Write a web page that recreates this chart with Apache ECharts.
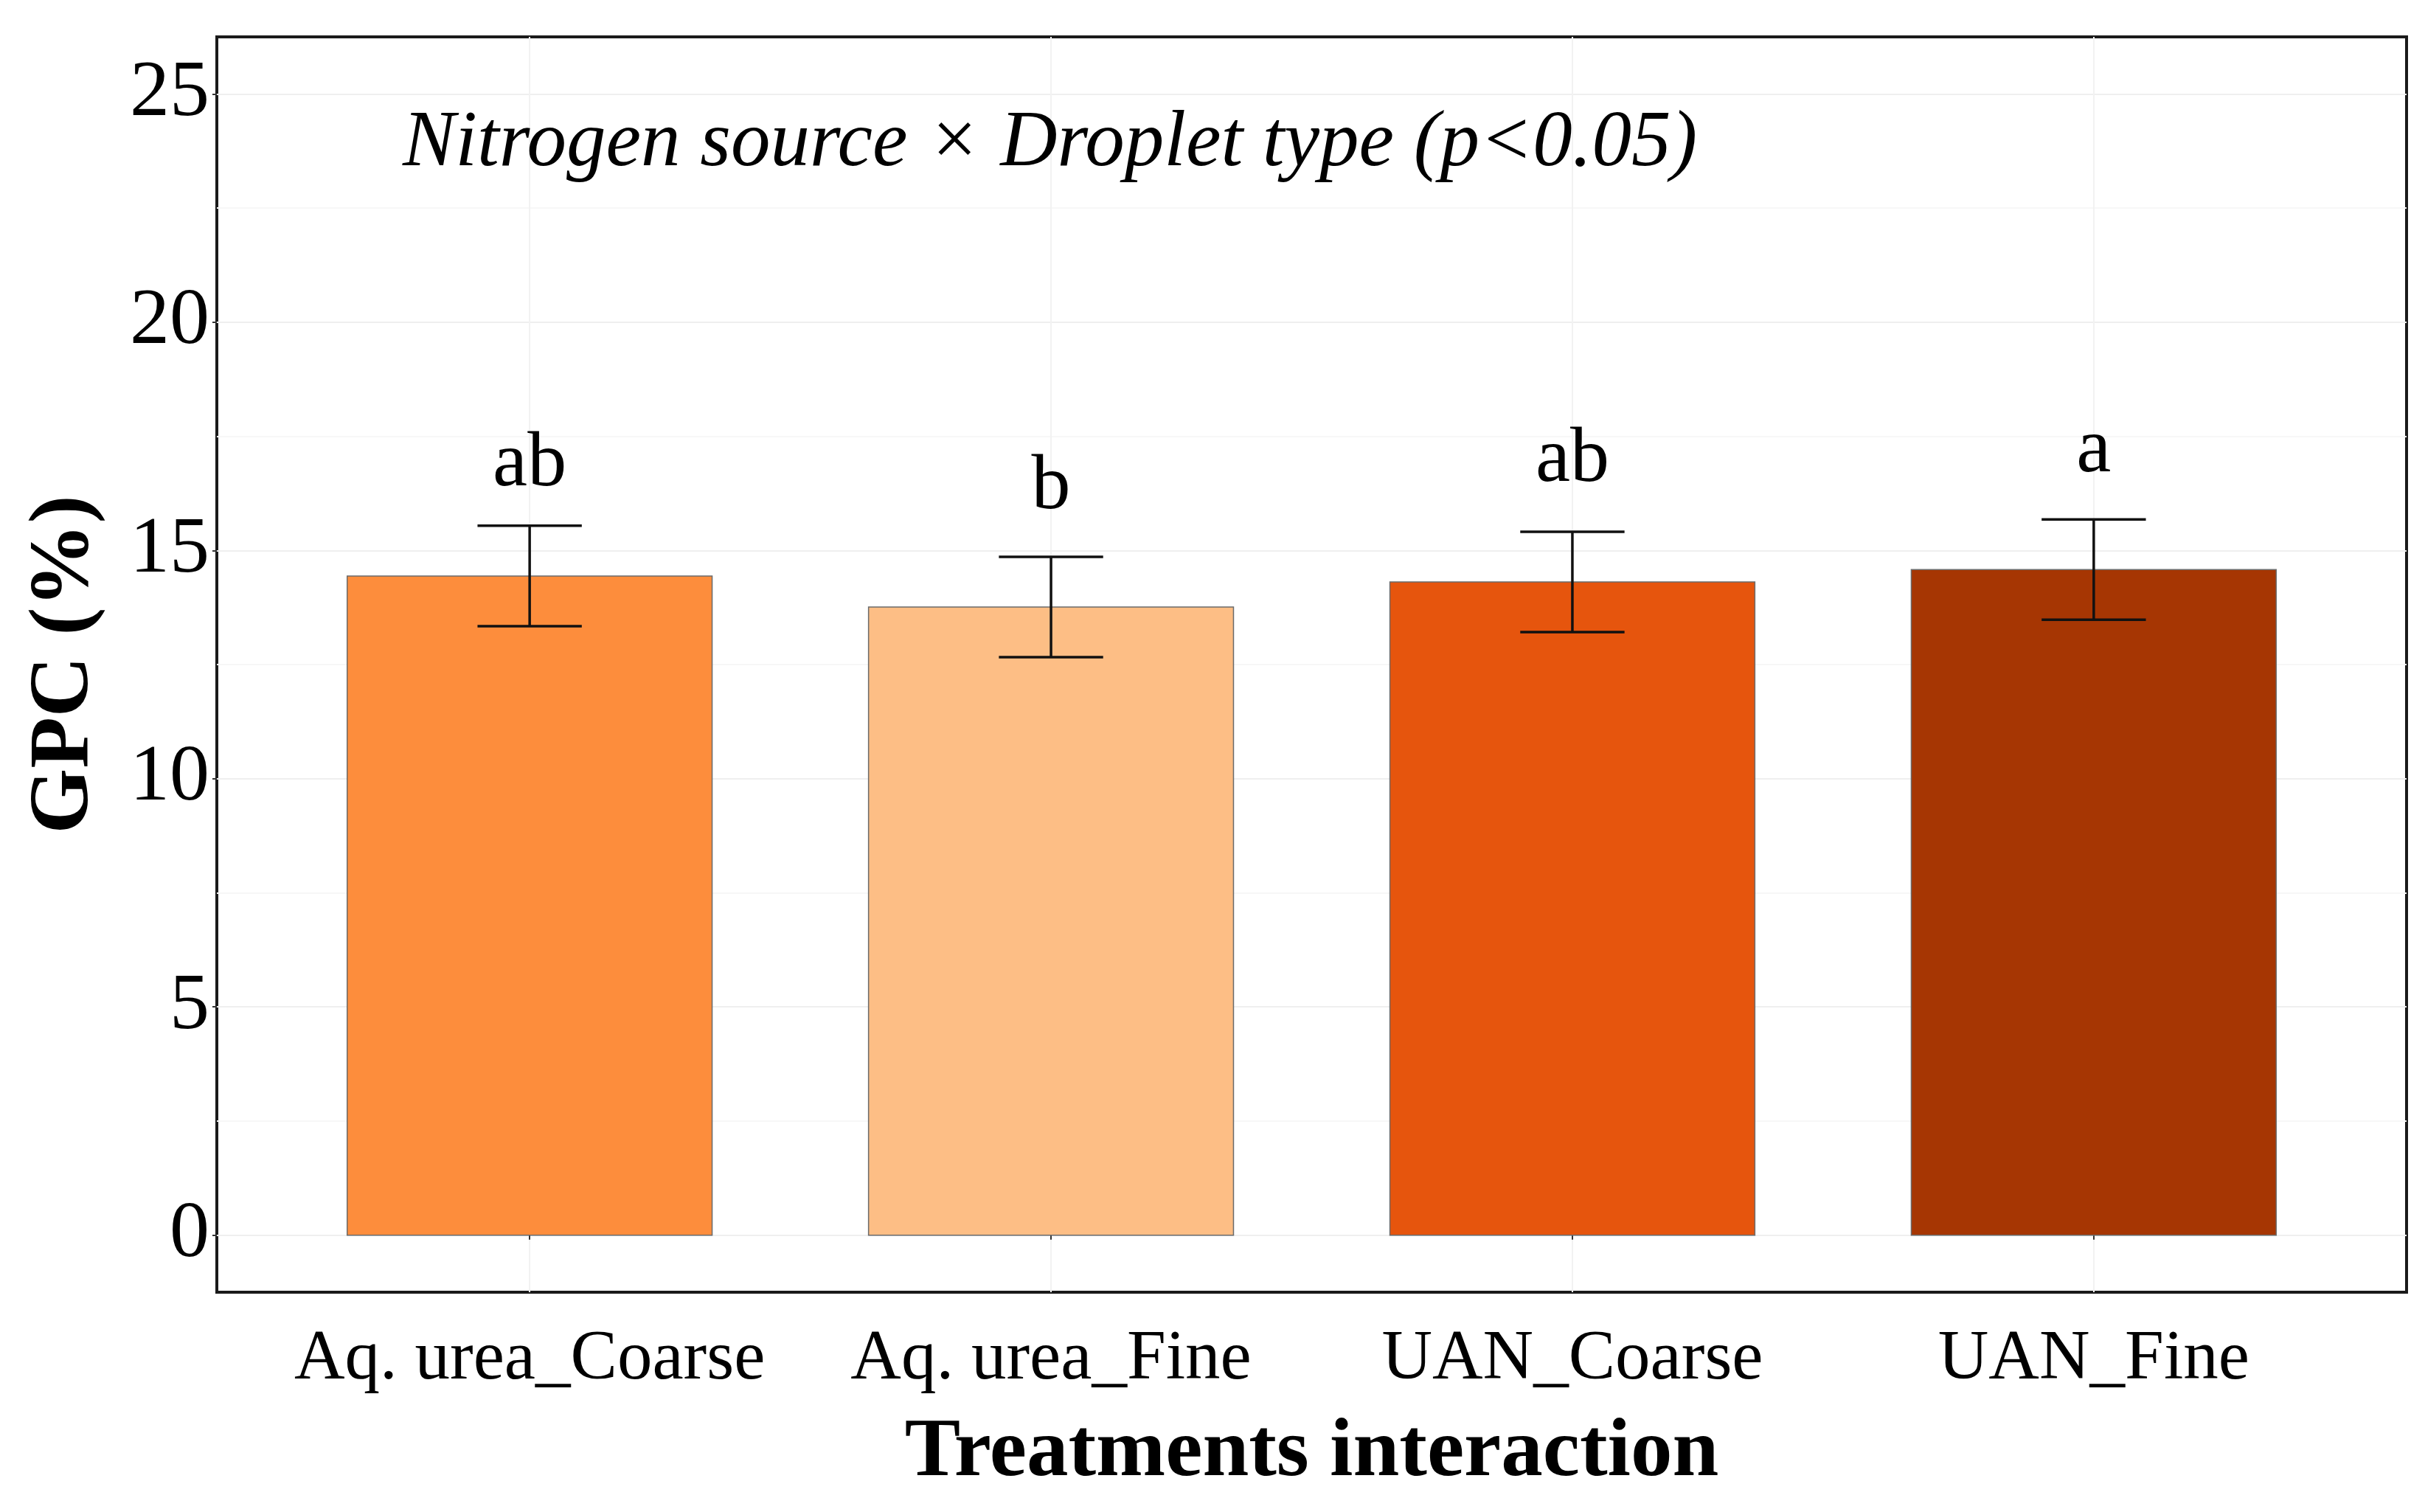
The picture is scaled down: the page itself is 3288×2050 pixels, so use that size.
<!DOCTYPE html>
<html>
<head>
<meta charset="utf-8">
<script src="https://cdn.jsdelivr.net/npm/echarts@6/dist/echarts.min.js"></script>
<style>
html,body{margin:0;padding:0;background:#fff;}
#chart{width:3288px;height:2050px;}
</style>
</head>
<body>
<div id="chart"></div>
<script>
const categories = ['Aq. urea_Coarse', 'Aq. urea_Fine', 'UAN_Coarse', 'UAN_Fine'];
const means = [14.44, 13.76, 14.31, 14.58];
const errors = [1.10, 1.10, 1.10, 1.10];
const letters = ['ab', 'b', 'ab', 'a'];
const letterY = [16.39, 15.89, 16.50, 16.71];
const barColors = ['#FD8D3C', '#FDBE85', '#E6550D', '#A63603'];
const yTicks = [0, 5, 10, 15, 20, 25];
const yMinorTicks = [2.5, 7.5, 12.5, 17.5, 22.5];
const xPositions = [1, 2, 3, 4];

const FONT = 'Liberation Serif';
const LETTER_SIZE = 106;
const chart = echarts.init(document.getElementById('chart'));

const barData = xPositions.map((x, i) => [x, means[i]]);
const errData = xPositions.map((x, i) => [x, means[i], errors[i]]);
const letterData = xPositions.map((x, i) => [x, letterY[i], letters[i]]);

chart.setOption({
  backgroundColor: '#ffffff',
  animation: false,
  title: {
    text: 'Nitrogen source × Droplet type (p<0.05)',
    left: 541,
    top: 137,
    textStyle: {fontFamily: FONT, fontStyle: 'italic', fontWeight: 'normal', fontSize: 107, color: '#000'}
  },
  grid: {
    left: 294, right: 25, top: 50, bottom: 298,
    show: true, borderColor: '#1a1a1a', borderWidth: 4, backgroundColor: 'transparent'
  },
  xAxis: {
    type: 'value', min: 0.4, max: 4.6,
    name: 'Treatments interaction', nameLocation: 'middle', nameGap: 162,
    nameTextStyle: {fontFamily: FONT, fontWeight: 'bold', fontSize: 113, color: '#000'},
    axisLine: {show: false},
    axisTick: {show: true, length: 6, customValues: xPositions, lineStyle: {color: '#333', width: 2}},
    axisLabel: {
      customValues: xPositions, margin: 45,
      fontFamily: FONT, fontSize: 95, color: '#000',
      formatter: v => categories[Math.round(v) - 1]
    },
    splitLine: {show: true, lineStyle: {color: '#f2f2f2', width: 2}}
  },
  yAxis: [{
    type: 'value', min: -1.25, max: 26.25,
    name: 'GPC (%)', nameLocation: 'middle', nameGap: 148,
    nameTextStyle: {fontFamily: FONT, fontWeight: 'bold', fontSize: 114, color: '#000'},
    axisLine: {show: false},
    axisTick: {show: true, length: 6, customValues: yTicks, lineStyle: {color: '#333', width: 2}},
    axisLabel: {customValues: yTicks, margin: 10, fontFamily: FONT, fontSize: 108, color: '#000'},
    splitLine: {show: true, lineStyle: {color: '#efefef', width: 2}}
  }, {
    type: 'value', min: -1.25, max: 26.25, position: 'left',
    axisLine: {show: false},
    axisTick: {show: false, customValues: yMinorTicks},
    axisLabel: {show: false, customValues: yMinorTicks},
    splitLine: {show: true, lineStyle: {color: '#f7f7f7', width: 2}}
  }],
  series: [{
    type: 'custom',
    data: barData,
    z: 3,
    renderItem: function (params, api) {
      const x = api.value(0), v = api.value(1);
      const p0 = api.coord([x - 0.35, v]);
      const p1 = api.coord([x + 0.35, 0]);
      return {
        type: 'rect',
        shape: {x: p0[0], y: p0[1], width: p1[0] - p0[0], height: p1[1] - p0[1]},
        style: {fill: barColors[params.dataIndex], stroke: '#6b6b6b', lineWidth: 1.5}
      };
    }
  }, {
    type: 'custom',
    data: errData,
    z: 4,
    renderItem: function (params, api) {
      const x = api.value(0), m = api.value(1), e = api.value(2);
      const top = api.coord([x, m + e]);
      const bot = api.coord([x, m - e]);
      const half = api.size([0.1, 0])[0];
      const st = {stroke: '#111', lineWidth: 3.5};
      return {
        type: 'group',
        children: [
          {type: 'line', shape: {x1: top[0], y1: top[1], x2: bot[0], y2: bot[1]}, style: st},
          {type: 'line', shape: {x1: top[0] - half, y1: top[1], x2: top[0] + half, y2: top[1]}, style: st},
          {type: 'line', shape: {x1: bot[0] - half, y1: bot[1], x2: bot[0] + half, y2: bot[1]}, style: st}
        ]
      };
    }
  }, {
    type: 'custom',
    data: letterData,
    z: 5,
    renderItem: function (params, api) {
      const p = api.coord([api.value(0), api.value(1)]);
      return {
        type: 'text',
        x: p[0], y: p[1] + LETTER_SIZE * 0.22,
        style: {
          text: letters[params.dataIndex],
          fontFamily: FONT, fontSize: LETTER_SIZE, fill: '#000',
          align: 'center', verticalAlign: 'bottom'
        }
      };
    }
  }]
});
</script>
</body>
</html>
